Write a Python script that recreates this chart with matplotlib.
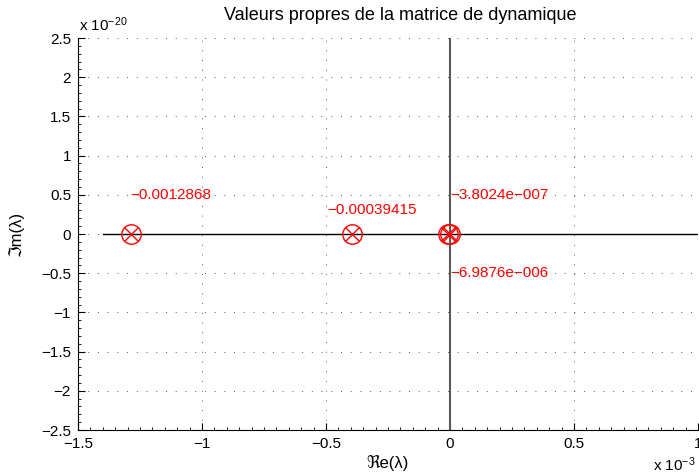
import matplotlib.pyplot as plt
from matplotlib.ticker import FuncFormatter, MultipleLocator

plt.rcParams['font.family'] = ['Liberation Sans', 'DejaVu Sans']
plt.rcParams['mathtext.fontset'] = 'custom'
plt.rcParams['mathtext.rm'] = 'Liberation Sans'
plt.rcParams['mathtext.it'] = 'Liberation Sans'

# eigenvalues of the dynamics matrix (all real)
re_vals = [-0.0012868, -0.00039415, -3.8024e-07, -6.9876e-06]
im_vals = [0.0, 0.0, 0.0, 0.0]
labels = ['\u22120.0012868', '\u22120.00039415', '\u22123.8024e\u2212007', '\u22126.9876e\u2212006']

# where each label sits (real, imag)
label_pos = [(-1.29e-3, 0.5e-20), (-0.495e-3, 0.3e-20), (0.0, 0.5e-20), (0.0, -0.5e-20)]

fig = plt.figure(figsize=(6.99, 4.75), dpi=100)
ax = fig.add_axes([78/699, 1 - 430/475, 620/699, 392/475])

ax.set_xlim(-1.5e-3, 1e-3)
ax.set_ylim(-2.5e-20, 2.5e-20)

# real and imaginary axes
ax.plot([-1.4e-3, 1e-3], [0, 0], color='k', lw=1)
ax.plot([0, 0], [-2.5e-20, 2.5e-20], color='0.35', lw=1.5)

ax.plot(re_vals, im_vals, 'o', mfc='none', mec='r', ms=14, mew=1)
ax.plot(re_vals, im_vals, 'x', color='r', ms=10, mew=1)

for (px, py), txt in zip(label_pos, labels):
    ax.text(px, py, txt, color='r', fontsize=11, va='center', ha='left')

ax.xaxis.set_major_locator(MultipleLocator(0.5e-3))
ax.xaxis.set_minor_locator(MultipleLocator(0.05e-3))
ax.yaxis.set_major_locator(MultipleLocator(0.5e-20))
ax.yaxis.set_minor_locator(MultipleLocator(0.1e-20))
ax.xaxis.set_major_formatter(FuncFormatter(lambda v, p: f'{v*1e3:g}'.replace('-', '\u2212')))
ax.yaxis.set_major_formatter(FuncFormatter(lambda v, p: f'{v*1e20:g}'.replace('-', '\u2212')))

ax.tick_params(which='both', direction='in', top=False, right=False, labelsize=11, pad=5)
ax.tick_params(which='major', length=5)
ax.tick_params(which='minor', length=2.5)

ax.spines['top'].set_visible(False)
ax.spines['right'].set_visible(False)
ax.grid(True, which='major', linestyle=(0, (1, 9)), color='0.35', lw=0.7)

ax.set_title('Valeurs propres de la matrice de dynamique', fontsize=13, x=0.52, pad=13)
ax.set_xlabel('\u211ce(\u03bb)', fontsize=12, labelpad=3)
ax.set_ylabel('\u2111m(\u03bb)', fontsize=12, labelpad=12)

fig.text(79/699, 1 - 25/475, r'x 10$^{-20}$', fontsize=11, va='center')
fig.text(653/699, 1 - 465/475, r'x 10$^{-3}$', fontsize=11, va='center')

fig.savefig('out.png', dpi=100)
